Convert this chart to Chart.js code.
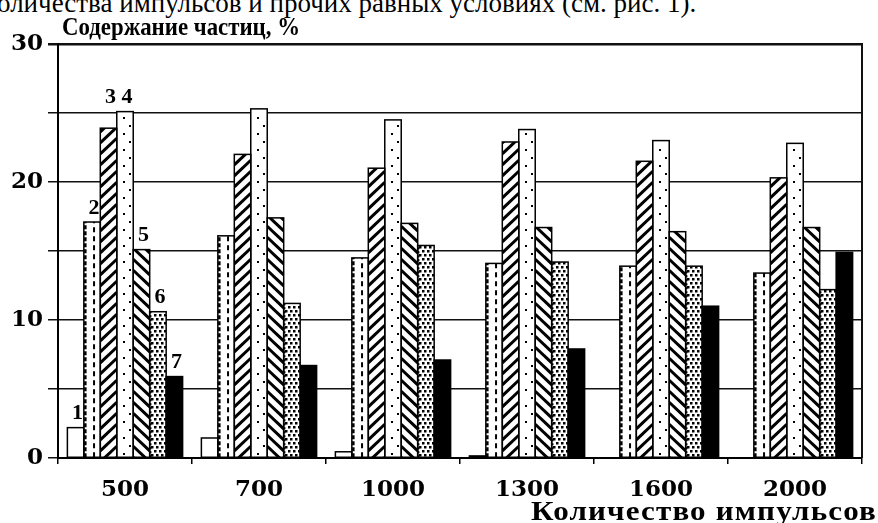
<!DOCTYPE html>
<html>
<head>
<meta charset="utf-8">
<script src="https://cdn.jsdelivr.net/npm/chart.js@4.4.1/dist/chart.umd.min.js"></script>
<style>
  html, body { margin: 0; padding: 0; background: #fff; overflow: hidden; }
  #wrap { position: relative; width: 878px; height: 523px; }
  #note { position: absolute; left: -3px; top: -12px; font: 27px "Liberation Serif", serif; white-space: nowrap; color: #000; }
  canvas { position: absolute; left: 0; top: 0; }
</style>
</head>
<body>
<div id="wrap">
  <div id="note">оличества импульсов и прочих равных условиях (см. рис. 1).</div>
  <canvas id="chart" width="878" height="523"></canvas>
</div>
<script>
// categories (number of pulses)
const categories = ["500", "700", "1000", "1300", "1600", "2000"];

// particle content, % (series 1..7)
const series1 = [2.2, 1.45, 0.45, 0.15, 0, 0];
const series2 = [17.1, 16.1, 14.5, 14.1, 13.9, 13.4];
const series3 = [23.9, 22.0, 21.0, 22.9, 21.5, 20.3];
const series4 = [25.1, 25.3, 24.5, 23.8, 23.0, 22.8];
const series5 = [15.1, 17.4, 17.0, 16.7, 16.4, 16.7];
const series6 = [10.6, 11.2, 15.4, 14.2, 13.9, 12.2];
const series7 = [5.9, 6.7, 7.1, 7.9, 11.0, 14.9];
const seriesNames = ["1", "2", "3", "4", "5", "6", "7"];

const yTicks = [0, 10, 20, 30];
const yTitle = "Содержание частиц, %";
const xTitle = "Количество импульсов";

const fills = ["plain", "dash", "slash", "dots", "backslash", "speckle", "solid"];

const allSeries = [series1, series2, series3, series4, series5, series6, series7];

// hatching inside each bar, drawn from the bar element geometry
function drawFill(ctx, kind, l, r, t, b) {
  const w = r - l;
  ctx.save();
  ctx.beginPath();
  ctx.rect(l, t, w, b - t);
  ctx.clip();
  ctx.fillStyle = "#000";
  ctx.strokeStyle = "#000";
  if (kind === "solid") {
    ctx.fillRect(l, t, w, b - t);
  } else if (kind === "dash") {
    ctx.lineWidth = 2.5;
    ctx.setLineDash([4, 2]);
    ctx.beginPath();
    ctx.moveTo(l + 1.5, b);
    ctx.lineTo(l + 1.5, t);
    ctx.stroke();
    ctx.lineWidth = 2;
    ctx.setLineDash([5, 4]);
    ctx.beginPath();
    ctx.moveTo(l + w * 0.62, b);
    ctx.lineTo(l + w * 0.62, t);
    ctx.stroke();
  } else if (kind === "slash" || kind === "backslash") {
    ctx.lineWidth = 3;
    const rise = w * 0.95;
    for (let yy = b + rise; yy > t - rise; yy -= 11) {
      ctx.beginPath();
      if (kind === "slash") {
        ctx.moveTo(l, yy);
        ctx.lineTo(r, yy - rise);
      } else {
        ctx.moveTo(l, yy - rise);
        ctx.lineTo(r, yy);
      }
      ctx.stroke();
    }
  } else if (kind === "dots") {
    let k = 0;
    for (let yy = b - 4; yy > t + 2; yy -= 8) {
      const xx = k % 2 === 0 ? l + w * 0.38 : l + w * 0.72;
      ctx.fillRect(Math.round(xx), Math.round(yy), 2, 2);
      k++;
    }
  } else if (kind === "speckle") {
    let k = 0;
    for (let yy = b - 3; yy > t; yy -= 4) {
      const off = k % 2 === 0 ? 1.5 : 4;
      for (let xx = l + off; xx < r - 1; xx += 5) {
        ctx.fillRect(Math.round(xx), Math.round(yy), 2.5, 2.5);
      }
      k++;
    }
    ctx.lineWidth = 1.5;
    ctx.setLineDash([2, 2]);
    ctx.beginPath();
    ctx.moveTo(l + 1, b);
    ctx.lineTo(l + 1, t);
    ctx.stroke();
  }
  ctx.restore();
}

const hatchPlugin = {
  id: "hatch",
  afterDatasetsDraw(chart) {
    const ctx = chart.ctx;
    chart.data.datasets.forEach((ds, i) => {
      const meta = chart.getDatasetMeta(i);
      meta.data.forEach((el) => {
        const p = el.getProps(["x", "y", "base", "width"], true);
        const l = p.x - p.width / 2;
        const r = p.x + p.width / 2;
        const t = Math.min(p.y, p.base);
        const b = Math.max(p.y, p.base);
        if (b - t < 0.5) return;
        drawFill(ctx, fills[i], l, r, t, b);
        ctx.save();
        ctx.strokeStyle = "#000";
        ctx.lineWidth = 1.5;
        ctx.strokeRect(l, t, r - l, b - t);
        ctx.restore();
      });
    });
  },
};

// draw text squeezed/stretched to a given width
function fitText(ctx, text, x, y, width) {
  const m = ctx.measureText(text).width;
  ctx.save();
  ctx.translate(x, y);
  ctx.scale(width / m, 1);
  ctx.fillText(text, 0, 0);
  ctx.restore();
}

const textPlugin = {
  id: "texts",
  afterDraw(chart) {
    const ctx = chart.ctx;
    const area = chart.chartArea;
    ctx.save();
    // right frame line
    ctx.strokeStyle = "#111";
    ctx.lineWidth = 2;
    ctx.beginPath();
    ctx.moveTo(area.right, area.top - 1);
    ctx.lineTo(area.right, area.bottom);
    ctx.stroke();

    // series numbers over the first group
    ctx.fillStyle = "#000";
    ctx.font = "bold 22px 'Liberation Serif', serif";
    ctx.textAlign = "center";
    ctx.textBaseline = "bottom";
    chart.data.datasets.forEach((ds, i) => {
      const el = chart.getDatasetMeta(i).data[0];
      let top = el.y;
      if (i === 2) top = Math.min(top, chart.getDatasetMeta(3).data[0].y);
      ctx.fillText(seriesNames[i], el.x + 2, top - 3);
    });

    // axis titles
    ctx.textAlign = "left";
    ctx.textBaseline = "alphabetic";
    ctx.font = "bold 26px 'Liberation Serif', serif";
    fitText(ctx, yTitle, area.left + 4, 35, 238);
    ctx.font = "bold 27px 'Liberation Serif', serif";
    ctx.letterSpacing = "1px";
    fitText(ctx, xTitle, 531, 520, 346);
    ctx.restore();
  },
};

new Chart(document.getElementById("chart"), {
  type: "bar",
  data: {
    labels: categories,
    datasets: allSeries.map((values, i) => ({
      label: seriesNames[i],
      data: values,
      backgroundColor: fills[i] === "solid" ? "#000" : "#fff",
      borderColor: "#000",
      borderWidth: 0,
      categoryPercentage: 0.86,
      barPercentage: 1.0,
    })),
  },
  options: {
    responsive: false,
    animation: false,
    layout: { padding: { top: 44, right: 16, left: 0, bottom: 0 } },
    plugins: {
      legend: { display: false },
      tooltip: { enabled: false },
      title: { display: false },
    },
    scales: {
      x: {
        afterFit: (scale) => { scale.height = 65; },
        grid: {
          display: true,
          drawOnChartArea: false,
          drawTicks: true,
          tickLength: 6,
          color: "#000",
          lineWidth: 1.5,
          offset: true,
        },
        border: { display: true, color: "#000", width: 2 },
        ticks: {
          color: "#000",
          font: { family: "'DejaVu Serif', serif", size: 23, weight: "bold" },
          padding: 12,
          maxRotation: 0,
          autoSkip: false,
        },
      },
      y: {
        min: 0,
        max: 30,
        afterFit: (scale) => { scale.width = 58; },
        grid: {
          color: "#111",
          lineWidth: (c) => (c.tick && c.tick.value === 30 ? 2.5 : 1.5),
          tickLength: 10,
        },
        border: { display: true, color: "#000", width: 2 },
        ticks: {
          stepSize: 5,
          color: "#000",
          padding: 5,
          autoSkip: false,
          font: { family: "'DejaVu Serif', serif", size: 23, weight: "bold" },
          callback: (v) => (yTicks.includes(v) ? String(v) : ""),
        },
      },
    },
  },
  plugins: [hatchPlugin, textPlugin],
});
</script>
</body>
</html>
